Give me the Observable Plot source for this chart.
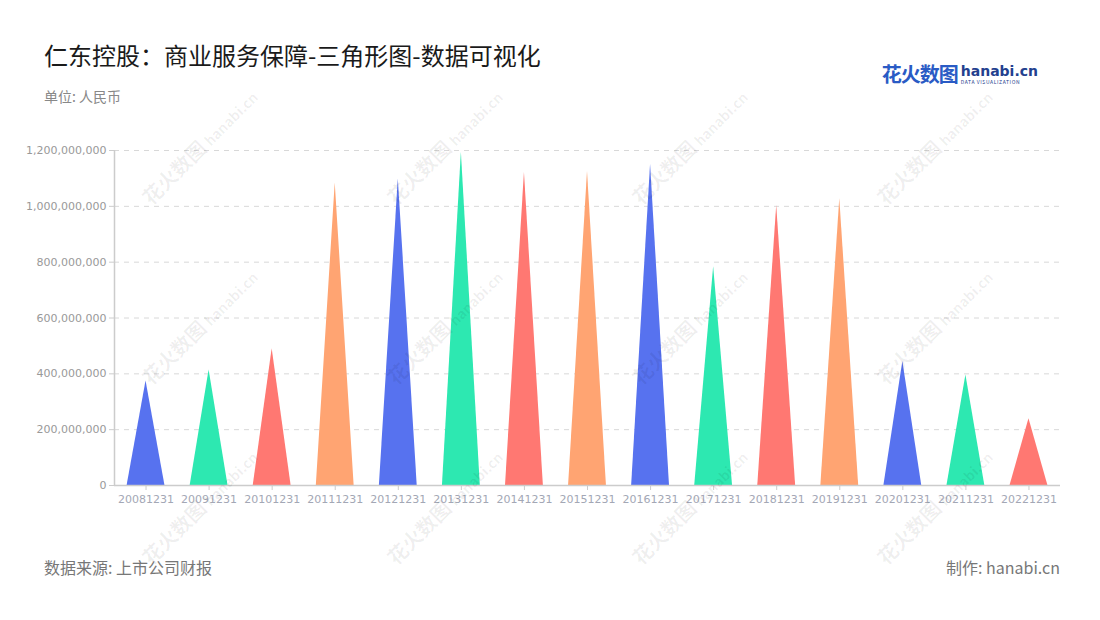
<!DOCTYPE html>
<html>
<head>
<meta charset="utf-8">
<script src="https://cdn.jsdelivr.net/npm/d3@7"></script>
<script src="https://cdn.jsdelivr.net/npm/@observablehq/plot@0.6"></script>
<style>
  html, body { margin: 0; padding: 0; background: #fff; }
  body { width: 1100px; height: 620px; position: relative; overflow: hidden;
         font-family: "Noto Sans CJK SC", "Noto Sans", sans-serif; }
  .abs { position: absolute; white-space: nowrap; }
  #title { left: 44px; top: 37px; font-size: 24px; color: #1a1a1a; }
  #unit { left: 44px; top: 86px; font-size: 14px; color: #888; }
  #source { left: 44px; top: 555px; font-size: 16px; color: #777; }
  #maker { right: 40px; top: 555px; font-size: 16px; color: #777; }
  #chart { position: absolute; left: 0; top: 120px; }
  .wm { position: absolute; color: rgba(0,0,0,0.065); font-weight: bold; font-size: 20px;
        transform: rotate(-45deg); transform-origin: left top; pointer-events: none; z-index: 2; }
  .wm small { font-size: 14px; font-weight: bold; margin-left: 4px; }
  #logo { right: 62px; top: 59px; }
  #logo .cn { font-size: 20px; font-weight: bold; color: #2a5bc5; letter-spacing: -1px; }
  #logo .en { display: inline-block; vertical-align: top; margin-left: 3px; margin-top: 2px; line-height: 1; }
  #logo .en b { font-family: "DejaVu Sans", sans-serif; font-size: 14px; color: #23408e; }
  #logo .en i { display: block; font-style: normal; font-size: 5px; color: #23408e; letter-spacing: 0.6px; margin-top: 1px; }
</style>
</head>
<body>
<div id="title" class="abs">仁东控股：商业服务保障-三角形图-数据可视化</div>
<div id="unit" class="abs">单位: 人民币</div>
<div id="logo" class="abs"><span class="cn">花火数图</span><span class="en"><b>hanabi.cn</b><i>DATA VISUALIZATION</i></span></div>
<div id="chart"></div>
<div id="source" class="abs">数据来源: 上市公司财报</div>
<div id="maker" class="abs">制作: hanabi.cn</div>
<script>
const categories = ["20081231","20091231","20101231","20111231","20121231","20131231","20141231","20151231",
                    "20161231","20171231","20181231","20191231","20201231","20211231","20221231"];
const values = [374e6, 414e6, 490e6, 1083e6, 1099e6, 1194e6, 1122e6, 1125e6,
                1150e6, 784e6, 1003e6, 1027e6, 444e6, 396e6, 239e6];
const palette = ["#5772ef", "#2de8b1", "#ff7872", "#ffa472"];
const yTicks = [0, 200e6, 400e6, 600e6, 800e6, 1000e6, 1200e6];

const half = 0.3; // half of the triangle base, in band units
const tri = categories.flatMap((c, i) => {
  const col = palette[i % palette.length];
  return [
    {cat: c, pos: i - half, v: 0, col},
    {cat: c, pos: i, v: values[i], col},
    {cat: c, pos: i + half, v: 0, col}
  ];
});

const plot = Plot.plot({
  width: 1100,
  height: 400,
  marginLeft: 114,
  marginRight: 40,
  marginTop: 30,
  marginBottom: 35,
  style: {background: "transparent", fontFamily: "'DejaVu Sans', sans-serif"},
  x: {domain: [-0.5, categories.length - 0.5], axis: null},
  y: {domain: [0, 1200e6], axis: null},
  color: {type: "identity"},
  marks: [
    Plot.gridY(yTicks.filter(d => d > 0), {stroke: "#d8d8d8", strokeOpacity: 1, strokeDasharray: "5,5"}),
    Plot.areaY(tri, {x: "pos", y: "v", z: "cat", fill: "col", curve: "linear"}),
    Plot.ruleX([-0.5], {y1: 0, y2: 1200e6, stroke: "#cccccc", strokeWidth: 1.5}),
    Plot.ruleY([0], {stroke: "#cccccc", strokeWidth: 1.5}),
    Plot.axisY({ticks: yTicks, tickFormat: d3.format(","), tickSize: 5, tickPadding: 3, label: null,
                stroke: "#cccccc", fill: "#999", fontSize: 11}),
    Plot.axisX({ticks: d3.range(categories.length), tickFormat: i => categories[i], tickSize: 5, label: null,
                tickPadding: 5, stroke: "#cccccc", fill: "#a3a7b5", fontSize: 11})
  ]
});
document.getElementById("chart").appendChild(plot);

// light diagonal watermarks
const wmX = [135, 380, 625, 870];
const wmY = [190, 370, 550];
wmX.forEach(x => wmY.forEach(y => {
  const d = document.createElement("div");
  d.className = "wm";
  d.style.left = x + "px";
  d.style.top = y + "px";
  d.innerHTML = "花火数图<small>hanabi.cn</small>";
  document.body.appendChild(d);
}));
</script>
</body>
</html>
